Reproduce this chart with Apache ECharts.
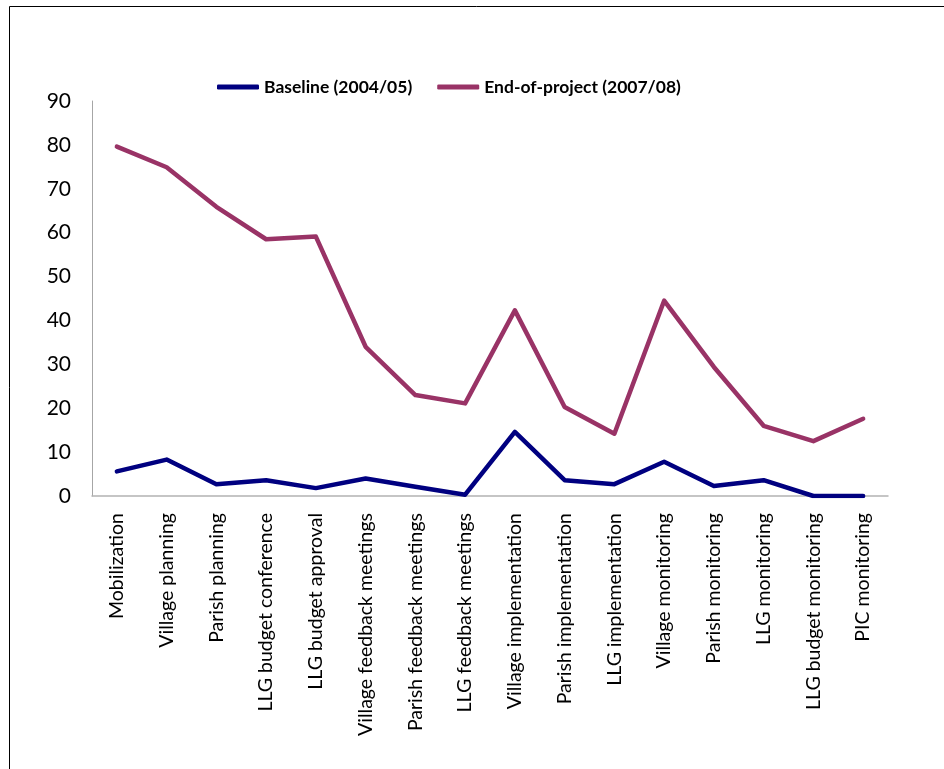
<!DOCTYPE html>
<html>
<head>
<meta charset="utf-8">
<script src="https://cdn.jsdelivr.net/npm/echarts@6/dist/echarts.min.js"></script>
<style>
html,body{margin:0;padding:0;background:#fff;}
#c{width:944px;height:769px;}
</style>
</head>
<body>
<div id="c"></div>
<script>
var categories = ["Mobilization","Village planning","Parish planning","LLG budget conference","LLG budget approval","Village feedback meetings","Parish feedback meetings","LLG feedback meetings","Village implementation","Parish implementation","LLG implementation","Village monitoring","Parish monitoring","LLG monitoring","LLG budget monitoring","PIC monitoring"];
var baseline = [5.6, 8.3, 2.7, 3.6, 1.8, 4.0, 2.1, 0.3, 14.6, 3.6, 2.7, 7.8, 2.3, 3.6, 0, 0];
var endProject = [79.6, 74.9, 65.9, 58.5, 59.1, 34.0, 23.0, 21.1, 42.3, 20.3, 14.2, 44.5, 29.4, 16.0, 12.5, 17.6];
var seriesNames = ["Baseline (2004/05)", "End-of-project (2007/08)"];

var chart = echarts.init(document.getElementById('c'));
var font = 'Lato, "Noto Sans", sans-serif';
chart.setOption({
  backgroundColor: '#fff',
  animation: false,
  graphic: [
    {type:'line', shape:{x1:9.5,y1:6.5,x2:944,y2:6.5}, style:{stroke:'#000',lineWidth:1}},
    {type:'line', shape:{x1:9.5,y1:6.5,x2:9.5,y2:769}, style:{stroke:'#000',lineWidth:1}}
  ],
  legend: {
    left: 212, top: 73,
    icon: 'roundRect',
    itemWidth: 42, itemHeight: 5,
    itemGap: 25,
    textStyle: {fontFamily: font, fontSize: 17.5, fontWeight: 'bold', color: '#000'},
    data: seriesNames
  },
  grid: {left: 92, top: 101, right: 56, bottom: 273, containLabel: false},
  xAxis: {
    type: 'category',
    data: categories,
    boundaryGap: true,
    axisLine: {lineStyle: {color: '#b3b3b3', width: 1.5}},
    axisTick: {show: false},
    axisLabel: {rotate: 90, margin: 17, fontFamily: font, fontSize: 19.5, color: '#000', interval: 0}
  },
  yAxis: {
    type: 'value', min: 0, max: 90, interval: 10,
    axisLine: {show: true, lineStyle: {color: '#a6a6a6', width: 1}},
    axisTick: {show: false},
    splitLine: {show: false},
    axisLabel: {margin: 21, fontFamily: font, fontSize: 21, color: '#000'}
  },
  series: [
    {name: seriesNames[0], type: 'line', data: baseline, showSymbol: false, symbol: 'none',
     lineStyle: {color: '#000080', width: 4.5, cap: 'round', join: 'round'}, itemStyle: {color: '#000080'}},
    {name: seriesNames[1], type: 'line', data: endProject, showSymbol: false, symbol: 'none',
     lineStyle: {color: '#993366', width: 4.5, cap: 'round', join: 'round'}, itemStyle: {color: '#993366'}}
  ]
});
</script>
</body>
</html>
